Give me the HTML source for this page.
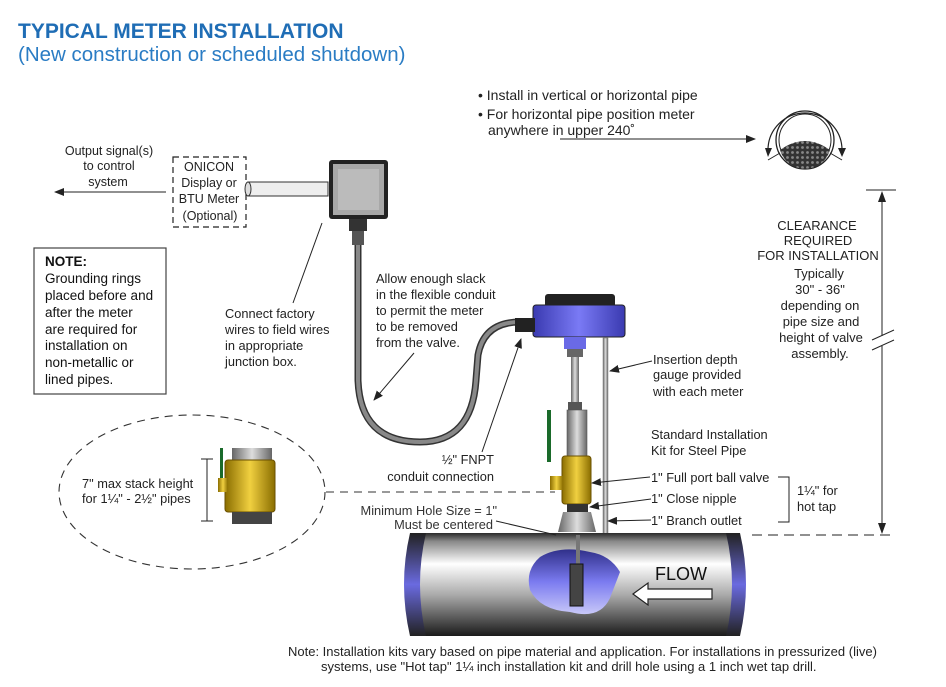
<!DOCTYPE html>
<html><head><meta charset="utf-8"><style>
body{margin:0;background:#fff}
svg{display:block;font-family:"Liberation Sans",sans-serif}
</style></head><body>
<svg width="946" height="687" viewBox="0 0 946 687" xmlns="http://www.w3.org/2000/svg">
<defs>
<marker id="ar" markerWidth="10" markerHeight="8" refX="9" refY="4" orient="auto" markerUnits="userSpaceOnUse"><path d="M0,0 L10,4 L0,8 z" fill="#222"/></marker>
<linearGradient id="pipe" x1="0" y1="0" x2="0" y2="1"><stop offset="0" stop-color="#2a2a2a"/><stop offset="0.08" stop-color="#888"/><stop offset="0.3" stop-color="#fff"/><stop offset="0.6" stop-color="#aaa"/><stop offset="1" stop-color="#1a1a1a"/></linearGradient>
<linearGradient id="endc" x1="0" y1="0" x2="0" y2="1"><stop offset="0" stop-color="#222"/><stop offset="0.5" stop-color="#6a6ae0"/><stop offset="1" stop-color="#222"/></linearGradient>
<linearGradient id="blob" x1="0" y1="0" x2="0" y2="1"><stop offset="0" stop-color="#30308a"/><stop offset="0.5" stop-color="#7b7bf0"/><stop offset="1" stop-color="#c8c8f8"/></linearGradient>
<linearGradient id="brass" x1="0" y1="0" x2="1" y2="0"><stop offset="0" stop-color="#8a6d00"/><stop offset="0.5" stop-color="#f0d040"/><stop offset="1" stop-color="#8a6d00"/></linearGradient>
<linearGradient id="steel" x1="0" y1="0" x2="1" y2="0"><stop offset="0" stop-color="#666"/><stop offset="0.5" stop-color="#ddd"/><stop offset="1" stop-color="#666"/></linearGradient>
<linearGradient id="blue" x1="0" y1="0" x2="1" y2="0"><stop offset="0" stop-color="#3a3ab0"/><stop offset="0.5" stop-color="#7a7af5"/><stop offset="1" stop-color="#3a3ab0"/></linearGradient>
<pattern id="dots" width="5" height="5" patternUnits="userSpaceOnUse"><rect width="5" height="5" fill="#333"/><circle cx="2.5" cy="2.5" r="1.4" fill="#888"/></pattern>
</defs>

<text x="18" y="38" font-size="21" font-weight="bold" fill="#1f6db5">TYPICAL METER INSTALLATION</text>
<text x="18" y="61" font-size="20.5" fill="#2a7cc4">(New construction or scheduled shutdown)</text>

<g font-size="14" fill="#222">
<text x="478" y="100">•  Install in vertical or horizontal pipe</text>
<text x="478" y="119">•  For horizontal pipe position meter</text>
<text x="488" y="135">anywhere in upper 240˚</text>
</g>
<line x1="560" y1="139" x2="755" y2="139" stroke="#222" marker-end="url(#ar)"/>
<path d="M768,150 A36,36 0 1 1 842,150" fill="none" stroke="#222" stroke-width="1.2"/>
<path d="M765,148 L768,157 L772,148z M838,148 L842,157 L846,148z" fill="#222"/>
<circle cx="805" cy="140" r="29" fill="none" stroke="#222" stroke-width="1.3"/>
<circle cx="805" cy="140" r="26" fill="none" stroke="#222" stroke-width="1"/>
<path d="M780,150 Q805,132 830,150 A26,26 0 0 1 780,150z" fill="url(#dots)"/>
<line x1="768" y1="160" x2="780" y2="153" stroke="#222"/><line x1="842" y1="160" x2="830" y2="153" stroke="#222"/>

<g font-size="12.5" fill="#222" text-anchor="middle">
<text x="109" y="155">Output signal(s)</text><text x="109" y="170">to control</text><text x="108" y="186">system</text>
</g>
<line x1="166" y1="192" x2="55" y2="192" stroke="#222" marker-end="url(#ar)"/>
<rect x="173" y="157" width="73" height="70" fill="none" stroke="#222" stroke-dasharray="6,4" stroke-width="1.2"/>
<g font-size="12.5" fill="#222" text-anchor="middle">
<text x="209" y="171">ONICON</text><text x="209" y="187">Display or</text><text x="209" y="203">BTU Meter</text><text x="210" y="220">(Optional)</text>
</g>
<rect x="248" y="182" width="80" height="14" fill="#eee" stroke="#333"/>
<ellipse cx="248" cy="189" rx="3" ry="7" fill="#ddd" stroke="#333"/>
<rect x="329" y="160" width="59" height="59" rx="3" fill="#222"/>
<rect x="333" y="164" width="51" height="51" fill="#a8a8a8"/>
<rect x="338" y="169" width="41" height="41" fill="#bbb"/>
<rect x="349" y="219" width="18" height="12" fill="#333"/>
<rect x="352" y="231" width="12" height="14" fill="#555"/>
<path d="M358,245 L358,380 Q360,442 420,442 Q472,442 476,380 L478,355 Q484,322 520,322" fill="none" stroke="#333" stroke-width="7"/>
<path d="M358,245 L358,380 Q360,442 420,442 Q472,442 476,380 L478,355 Q484,322 520,322" fill="none" stroke="#888" stroke-width="4"/>

<rect x="34" y="248" width="132" height="146" fill="#fff" stroke="#444" stroke-width="1.2"/>
<g font-size="13.5" fill="#111">
<text x="45" y="266" font-weight="bold">NOTE:</text>
<text x="45" y="283">Grounding rings</text><text x="45" y="300">placed before and</text><text x="45" y="317">after the meter</text>
<text x="45" y="334">are required for</text><text x="45" y="350">installation on</text><text x="45" y="367">non-metallic or</text><text x="45" y="384">lined pipes.</text>
</g>

<g font-size="12.8" fill="#222">
<text x="225" y="318">Connect factory</text><text x="225" y="334">wires to field wires</text><text x="225" y="350">in appropriate</text><text x="225" y="366">junction box.</text>
<text x="376" y="283">Allow enough slack</text><text x="376" y="299">in the flexible conduit</text><text x="376" y="315">to permit the meter</text><text x="376" y="331">to be removed</text><text x="376" y="347">from the valve.</text>
</g>
<line x1="293" y1="303" x2="322" y2="223" stroke="#222"/>
<line x1="414" y1="353" x2="374" y2="400" stroke="#222" marker-end="url(#ar)"/>

<ellipse cx="192" cy="492" rx="133" ry="77" fill="none" stroke="#333" stroke-dasharray="8,6" stroke-width="1.1"/>
<text x="82" y="488" font-size="12.8" fill="#222">7" max stack height</text>
<text x="82" y="503" font-size="12.8" fill="#222">for 1¼" - 2½" pipes</text>
<path d="M201,459 H213 M207,459 V521 M201,521 H213" stroke="#222" fill="none"/>
<rect x="232" y="448" width="40" height="12" fill="url(#steel)"/>
<rect x="225" y="460" width="50" height="52" rx="3" fill="url(#brass)" stroke="#6a5000"/>
<rect x="218" y="478" width="10" height="14" fill="url(#brass)"/>
<rect x="220" y="448" width="3" height="30" fill="#1a6a2a"/>
<rect x="232" y="512" width="40" height="12" fill="#444"/>
<line x1="326" y1="492" x2="555" y2="492" stroke="#333" stroke-dasharray="8,6"/>

<rect x="603" y="338" width="5" height="197" fill="url(#steel)" stroke="#777" stroke-width="0.5"/>
<rect x="545" y="294" width="70" height="16" rx="3" fill="#222"/>
<rect x="533" y="305" width="92" height="32" rx="3" fill="url(#blue)" stroke="#222"/>
<rect x="515" y="318" width="20" height="14" fill="#222"/>
<rect x="564" y="337" width="22" height="12" fill="#6a6ae6"/>
<rect x="567" y="349" width="16" height="8" fill="#666"/>
<rect x="571" y="357" width="8" height="48" fill="url(#steel)"/>
<rect x="568" y="402" width="14" height="8" fill="#555"/>
<rect x="567" y="410" width="20" height="47" fill="url(#steel)" stroke="#555" stroke-width="0.6"/>
<rect x="547" y="410" width="4" height="52" fill="#1a6a2a"/>
<rect x="562" y="456" width="29" height="48" rx="3" fill="url(#brass)" stroke="#6a5000"/>
<rect x="550" y="476" width="13" height="14" fill="url(#brass)"/>
<rect x="567" y="504" width="21" height="8" fill="#333"/>
<path d="M563,512 H591 L596,532 H558 Z" fill="url(#steel)"/>

<rect x="410" y="533" width="330" height="103" fill="url(#pipe)"/>
<path d="M410,533 Q398,584 410,636 L426,636 Q414,584 426,533Z" fill="url(#endc)"/>
<path d="M740,533 Q752,584 740,636 L726,636 Q738,584 726,533Z" fill="url(#endc)"/>
<path d="M540,557 Q560,545 590,552 Q610,555 620,572 Q615,585 610,598 Q600,620 570,612 Q540,610 530,590 Q525,570 540,557Z" fill="url(#blob)"/>
<rect x="576" y="535" width="4" height="30" fill="#777"/>
<rect x="570" y="564" width="13" height="42" fill="#444" stroke="#111"/>
<text x="655" y="580" font-size="18" fill="#111">FLOW</text>
<path d="M633,594 L648,583 L648,589 L712,589 L712,599 L648,599 L648,605 Z" fill="#fff" stroke="#222" stroke-width="1.2"/>

<g font-size="12.8" fill="#222">
<text x="494" y="464" text-anchor="end">½" FNPT</text>
<text x="494" y="481" text-anchor="end">conduit connection</text>
<text x="497" y="515" text-anchor="end" fill="#333">Minimum Hole Size = 1"</text>
<text x="493" y="529" text-anchor="end" fill="#333">Must be centered</text>
</g>
<line x1="482" y1="452" x2="521" y2="339" stroke="#222" marker-end="url(#ar)"/>
<line x1="496" y1="521" x2="556" y2="535" stroke="#222"/>

<g font-size="12.8" fill="#222">
<text x="653" y="364">Insertion depth</text><text x="653" y="379">gauge provided</text><text x="653" y="396">with each meter</text>
<text x="651" y="439">Standard Installation</text><text x="651" y="455">Kit for Steel Pipe</text>
<text x="651" y="482">1" Full port ball valve</text>
<text x="651" y="503">1" Close nipple</text>
<text x="651" y="525">1" Branch outlet</text>
<text x="797" y="495">1¼" for</text><text x="797" y="511">hot tap</text>
</g>
<line x1="652" y1="361" x2="610" y2="371" stroke="#222" marker-end="url(#ar)"/>
<line x1="650" y1="477" x2="592" y2="483" stroke="#222" marker-end="url(#ar)"/>
<line x1="651" y1="499" x2="590" y2="507" stroke="#222" marker-end="url(#ar)"/>
<line x1="651" y1="520" x2="608" y2="521" stroke="#222" marker-end="url(#ar)"/>
<path d="M778,477 H789 V522 H778" fill="none" stroke="#222"/>

<g font-size="13" fill="#222" text-anchor="middle">
<text x="817" y="230">CLEARANCE</text><text x="818" y="245">REQUIRED</text><text x="818" y="260">FOR INSTALLATION</text>
<text x="819" y="278">Typically</text><text x="820" y="294">30" - 36"</text><text x="820" y="310">depending on</text>
<text x="821" y="326">pipe size and</text><text x="821" y="342">height of valve</text><text x="820" y="358">assembly.</text>
</g>
<line x1="866" y1="190" x2="896" y2="190" stroke="#222"/>
<line x1="882" y1="193" x2="882" y2="336" stroke="#222"/>
<line x1="882" y1="346" x2="882" y2="533" stroke="#222"/>
<path d="M878,202 L882,191 L886,202z M878,523 L882,534 L886,523z" fill="#222"/>
<line x1="872" y1="340" x2="894" y2="330" stroke="#222"/><line x1="872" y1="350" x2="894" y2="340" stroke="#222"/>
<line x1="752" y1="535" x2="895" y2="535" stroke="#222" stroke-dasharray="10,6"/>

<g font-size="13" fill="#222">
<text x="288" y="656">Note: Installation kits vary based on pipe material and application. For installations in pressurized (live)</text>
<text x="321" y="671">systems, use "Hot tap" 1¼ inch installation kit and drill hole using a 1 inch wet tap drill.</text>
</g>
</svg>
</body></html>
